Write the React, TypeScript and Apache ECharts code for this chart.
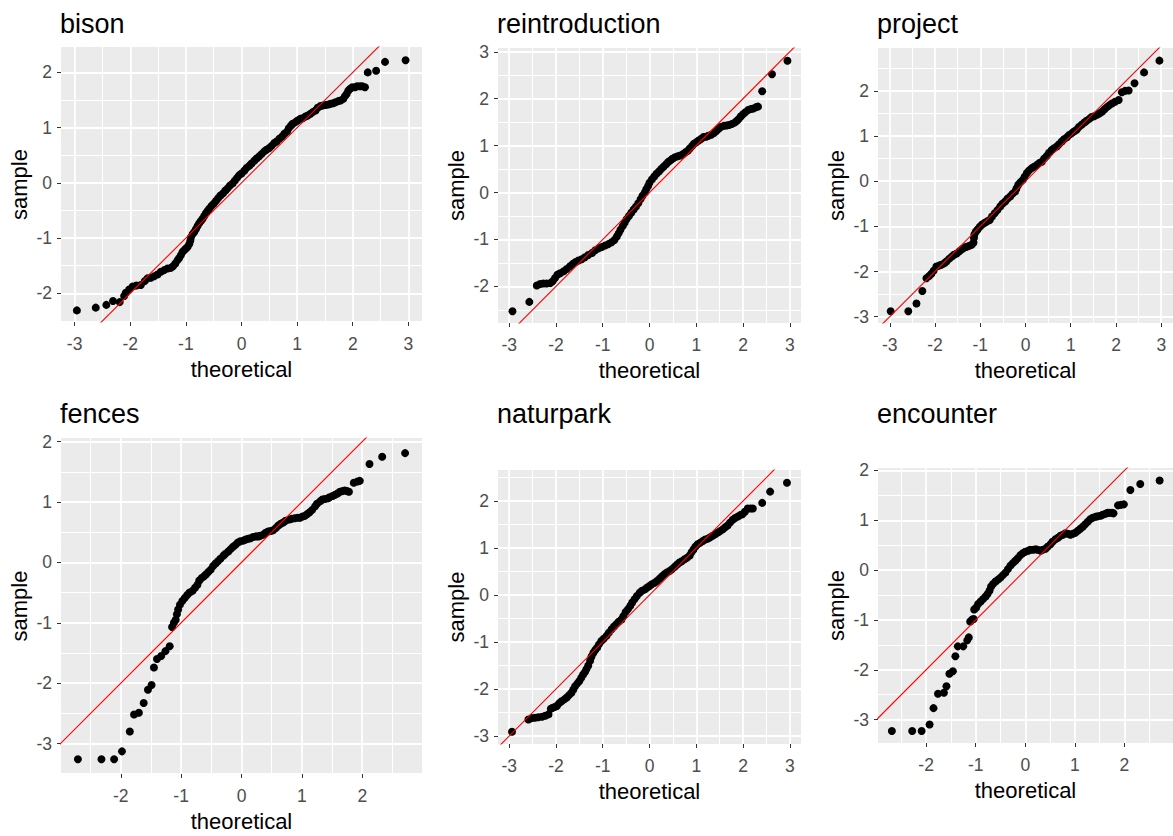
import React, { useEffect, useRef } from "react";
import * as echarts from "echarts";

// Normal Q-Q readings per item: [theoretical, sample]
const bisonQQ: [number, number][] = [
  [-2.96, -2.31], [-2.62, -2.26], [-2.43, -2.21], [-2.31, -2.14], [-2.19, -2.16],
  [-2.11, -2.05], [-2.08, -1.99], [-2.02, -1.93], [-1.96, -1.88], [-1.89, -1.86],
  [-1.81, -1.85], [-1.74, -1.78], [-1.69, -1.73], [-1.63, -1.72], [-1.57, -1.69],
  [-1.51, -1.66], [-1.45, -1.61], [-1.39, -1.58], [-1.33, -1.55], [-1.27, -1.54],
  [-1.23, -1.51], [-1.19, -1.46], [-1.15, -1.40], [-1.12, -1.36], [-1.09, -1.31],
  [-1.06, -1.25], [-1.03, -1.22], [-1.00, -1.19], [-0.97, -1.16], [-0.94, -1.11],
  [-0.92, -1.05], [-0.91, -0.99], [-0.88, -0.93], [-0.85, -0.89], [-0.82, -0.84],
  [-0.79, -0.78], [-0.76, -0.73], [-0.73, -0.69], [-0.70, -0.65], [-0.67, -0.60],
  [-0.64, -0.55], [-0.61, -0.51], [-0.58, -0.47], [-0.54, -0.42], [-0.50, -0.38],
  [-0.46, -0.33], [-0.42, -0.28], [-0.38, -0.23], [-0.33, -0.19], [-0.29, -0.14],
  [-0.25, -0.10], [-0.21, -0.05], [-0.16, -0.01], [-0.12, 0.04], [-0.08, 0.09],
  [-0.04, 0.14], [0.00, 0.17], [0.05, 0.22], [0.09, 0.27], [0.14, 0.31],
  [0.18, 0.35], [0.23, 0.40], [0.27, 0.44], [0.32, 0.48], [0.36, 0.52],
  [0.41, 0.57], [0.45, 0.60], [0.50, 0.63], [0.54, 0.67], [0.59, 0.72],
  [0.63, 0.75], [0.68, 0.80], [0.73, 0.84], [0.77, 0.89], [0.82, 0.93],
  [0.85, 0.99], [0.89, 1.04], [0.92, 1.07], [0.97, 1.10], [1.01, 1.13],
  [1.06, 1.16], [1.10, 1.17], [1.15, 1.20], [1.19, 1.22], [1.24, 1.25],
  [1.28, 1.28], [1.33, 1.31], [1.37, 1.36], [1.42, 1.39], [1.46, 1.40],
  [1.51, 1.41], [1.56, 1.42], [1.60, 1.43], [1.65, 1.44], [1.69, 1.46],
  [1.74, 1.48], [1.78, 1.49], [1.83, 1.52], [1.86, 1.57], [1.89, 1.61],
  [1.92, 1.67], [1.95, 1.70], [1.99, 1.73], [2.04, 1.73], [2.08, 1.75],
  [2.13, 1.75], [2.17, 1.75], [2.22, 1.73], [2.27, 2.00], [2.42, 2.03],
  [2.58, 2.19], [2.95, 2.22],
];

const reintroductionQQ: [number, number][] = [
  [-2.93, -2.53], [-2.57, -2.33], [-2.41, -1.98], [-2.34, -1.95], [-2.27, -1.94],
  [-2.20, -1.94], [-2.12, -1.93], [-2.07, -1.89], [-2.02, -1.82], [-1.97, -1.75],
  [-1.91, -1.72], [-1.84, -1.68], [-1.77, -1.63], [-1.70, -1.57], [-1.64, -1.52],
  [-1.58, -1.48], [-1.52, -1.45], [-1.45, -1.42], [-1.38, -1.38], [-1.31, -1.33],
  [-1.23, -1.29], [-1.16, -1.23], [-1.09, -1.19], [-1.02, -1.16], [-0.95, -1.13],
  [-0.88, -1.10], [-0.81, -1.06], [-0.75, -1.01], [-0.70, -0.94], [-0.66, -0.87],
  [-0.62, -0.79], [-0.57, -0.71], [-0.53, -0.64], [-0.49, -0.57], [-0.44, -0.50],
  [-0.39, -0.43], [-0.34, -0.36], [-0.29, -0.30], [-0.24, -0.23], [-0.19, -0.14],
  [-0.15, -0.07], [-0.10, 0.00], [-0.07, 0.07], [-0.03, 0.14], [0.00, 0.21],
  [0.05, 0.28], [0.10, 0.34], [0.15, 0.40], [0.20, 0.45], [0.25, 0.50],
  [0.30, 0.55], [0.35, 0.60], [0.40, 0.65], [0.44, 0.68], [0.49, 0.72],
  [0.54, 0.75], [0.60, 0.77], [0.66, 0.79], [0.72, 0.82], [0.77, 0.86],
  [0.82, 0.89], [0.86, 0.94], [0.91, 0.99], [0.95, 1.04], [1.00, 1.07],
  [1.05, 1.11], [1.10, 1.14], [1.15, 1.18], [1.21, 1.19], [1.26, 1.21],
  [1.32, 1.23], [1.38, 1.27], [1.43, 1.31], [1.48, 1.36], [1.53, 1.40],
  [1.59, 1.42], [1.65, 1.43], [1.70, 1.44], [1.76, 1.46], [1.82, 1.49],
  [1.87, 1.53], [1.91, 1.57], [1.95, 1.62], [2.00, 1.67], [2.05, 1.71],
  [2.11, 1.76], [2.17, 1.78], [2.22, 1.79], [2.28, 1.82], [2.32, 1.83],
  [2.41, 2.16], [2.62, 2.52], [2.95, 2.81],
];

const projectQQ: [number, number][] = [
  [-2.98, -2.88], [-2.59, -2.88], [-2.41, -2.71], [-2.28, -2.43], [-2.19, -2.15],
  [-2.13, -2.10], [-2.08, -2.05], [-2.03, -1.98], [-1.97, -1.89], [-1.91, -1.87],
  [-1.86, -1.85], [-1.80, -1.82], [-1.75, -1.78], [-1.69, -1.72], [-1.63, -1.67],
  [-1.58, -1.63], [-1.52, -1.60], [-1.46, -1.55], [-1.41, -1.51], [-1.35, -1.47],
  [-1.30, -1.45], [-1.24, -1.43], [-1.19, -1.41], [-1.15, -1.36], [-1.14, -1.26],
  [-1.13, -1.18], [-1.10, -1.12], [-1.06, -1.07], [-1.01, -1.01], [-0.96, -0.96],
  [-0.90, -0.92], [-0.85, -0.89], [-0.79, -0.86], [-0.74, -0.78], [-0.68, -0.71],
  [-0.62, -0.64], [-0.56, -0.56], [-0.51, -0.50], [-0.45, -0.45], [-0.40, -0.39],
  [-0.34, -0.34], [-0.29, -0.28], [-0.23, -0.23], [-0.20, -0.16], [-0.16, -0.08],
  [-0.11, -0.02], [-0.06, 0.03], [-0.02, 0.10], [0.03, 0.18], [0.08, 0.24],
  [0.14, 0.29], [0.19, 0.32], [0.25, 0.36], [0.30, 0.40], [0.36, 0.43],
  [0.41, 0.50], [0.47, 0.56], [0.52, 0.63], [0.58, 0.69], [0.63, 0.73],
  [0.69, 0.77], [0.74, 0.82], [0.80, 0.88], [0.85, 0.93], [0.91, 0.97],
  [0.96, 1.02], [1.02, 1.06], [1.07, 1.10], [1.13, 1.14], [1.18, 1.20],
  [1.24, 1.25], [1.30, 1.30], [1.35, 1.34], [1.41, 1.38], [1.46, 1.42],
  [1.52, 1.44], [1.58, 1.47], [1.63, 1.50], [1.69, 1.54], [1.74, 1.59],
  [1.80, 1.64], [1.85, 1.68], [1.91, 1.72], [1.98, 1.76], [2.06, 1.80],
  [2.13, 1.97], [2.20, 2.00], [2.28, 2.01], [2.41, 2.17], [2.62, 2.41],
  [2.96, 2.67],
];

const fencesQQ: [number, number][] = [
  [-2.71, -3.26], [-2.32, -3.26], [-2.11, -3.26], [-1.98, -3.13], [-1.85, -2.80],
  [-1.78, -2.52], [-1.70, -2.49], [-1.62, -2.33], [-1.55, -2.11], [-1.49, -2.03],
  [-1.45, -1.74], [-1.40, -1.60], [-1.33, -1.55], [-1.26, -1.47], [-1.19, -1.39],
  [-1.15, -1.07], [-1.12, -1.00], [-1.09, -0.95], [-1.07, -0.86], [-1.05, -0.78],
  [-1.02, -0.70], [-0.98, -0.64], [-0.94, -0.59], [-0.90, -0.54], [-0.86, -0.50],
  [-0.81, -0.47], [-0.77, -0.42], [-0.73, -0.37], [-0.70, -0.30], [-0.66, -0.26],
  [-0.62, -0.23], [-0.59, -0.20], [-0.55, -0.16], [-0.51, -0.12], [-0.47, -0.06],
  [-0.43, -0.02], [-0.39, 0.02], [-0.35, 0.06], [-0.30, 0.11], [-0.27, 0.14],
  [-0.22, 0.18], [-0.18, 0.22], [-0.14, 0.26], [-0.10, 0.29], [-0.06, 0.33],
  [-0.02, 0.35], [0.03, 0.36], [0.07, 0.38], [0.11, 0.39], [0.15, 0.40],
  [0.19, 0.42], [0.24, 0.43], [0.28, 0.43], [0.31, 0.44], [0.36, 0.46],
  [0.40, 0.49], [0.44, 0.51], [0.48, 0.52], [0.52, 0.53], [0.57, 0.57],
  [0.61, 0.61], [0.65, 0.64], [0.69, 0.66], [0.73, 0.69], [0.79, 0.71],
  [0.83, 0.72], [0.88, 0.73], [0.93, 0.74], [0.97, 0.74], [1.01, 0.76],
  [1.05, 0.77], [1.09, 0.80], [1.13, 0.83], [1.17, 0.87], [1.22, 0.93],
  [1.25, 0.97], [1.30, 1.01], [1.34, 1.04], [1.38, 1.05], [1.43, 1.06],
  [1.46, 1.08], [1.51, 1.10], [1.55, 1.12], [1.59, 1.14], [1.63, 1.17],
  [1.67, 1.18], [1.71, 1.19], [1.75, 1.18], [1.78, 1.17], [1.86, 1.32],
  [1.92, 1.34], [1.96, 1.35], [2.12, 1.63], [2.33, 1.75], [2.71, 1.81],
];

const naturparkQQ: [number, number][] = [
  [-2.94, -2.91], [-2.59, -2.65], [-2.52, -2.62], [-2.45, -2.61], [-2.38, -2.60],
  [-2.30, -2.59], [-2.23, -2.57], [-2.16, -2.54], [-2.11, -2.42], [-2.07, -2.40],
  [-2.02, -2.38], [-1.98, -2.36], [-1.93, -2.30], [-1.88, -2.26], [-1.82, -2.22],
  [-1.77, -2.18], [-1.72, -2.13], [-1.67, -2.08], [-1.63, -2.01], [-1.59, -1.94],
  [-1.54, -1.88], [-1.50, -1.83], [-1.46, -1.76], [-1.42, -1.69], [-1.38, -1.64],
  [-1.35, -1.58], [-1.31, -1.50], [-1.27, -1.40], [-1.24, -1.31], [-1.20, -1.23],
  [-1.16, -1.17], [-1.12, -1.12], [-1.08, -1.05], [-1.03, -0.98], [-0.98, -0.93],
  [-0.92, -0.87], [-0.87, -0.80], [-0.81, -0.73], [-0.76, -0.67], [-0.71, -0.62],
  [-0.66, -0.57], [-0.60, -0.52], [-0.56, -0.45], [-0.51, -0.36], [-0.46, -0.30],
  [-0.41, -0.23], [-0.37, -0.16], [-0.32, -0.09], [-0.27, -0.02], [-0.21, 0.05],
  [-0.16, 0.09], [-0.10, 0.12], [-0.05, 0.16], [0.00, 0.19], [0.05, 0.23],
  [0.11, 0.26], [0.16, 0.30], [0.22, 0.35], [0.27, 0.40], [0.32, 0.44],
  [0.37, 0.48], [0.43, 0.51], [0.48, 0.55], [0.54, 0.60], [0.59, 0.65],
  [0.64, 0.69], [0.69, 0.72], [0.75, 0.76], [0.80, 0.79], [0.86, 0.84],
  [0.90, 0.91], [0.94, 0.97], [0.98, 1.03], [1.03, 1.08], [1.08, 1.11],
  [1.14, 1.15], [1.19, 1.18], [1.25, 1.20], [1.30, 1.23], [1.35, 1.26],
  [1.40, 1.29], [1.46, 1.33], [1.51, 1.36], [1.57, 1.40], [1.62, 1.44],
  [1.67, 1.48], [1.72, 1.54], [1.78, 1.60], [1.83, 1.64], [1.89, 1.67],
  [1.94, 1.70], [1.99, 1.72], [2.04, 1.77], [2.10, 1.84], [2.16, 1.84],
  [2.21, 1.84], [2.41, 1.96], [2.58, 2.20], [2.94, 2.39],
];

const encounterQQ: [number, number][] = [
  [-2.69, -3.23], [-2.28, -3.23], [-2.09, -3.23], [-1.93, -3.10], [-1.85, -2.77],
  [-1.76, -2.48], [-1.64, -2.46], [-1.59, -2.33], [-1.53, -2.08], [-1.46, -2.03],
  [-1.41, -1.73], [-1.36, -1.53], [-1.25, -1.53], [-1.17, -1.41], [-1.14, -1.35],
  [-1.11, -1.03], [-1.07, -0.99], [-1.04, -0.98], [-1.03, -0.79], [-0.99, -0.75],
  [-0.95, -0.68], [-0.90, -0.63], [-0.85, -0.58], [-0.80, -0.53], [-0.76, -0.48],
  [-0.72, -0.41], [-0.69, -0.33], [-0.65, -0.28], [-0.60, -0.23], [-0.55, -0.19],
  [-0.50, -0.15], [-0.45, -0.10], [-0.40, -0.05], [-0.35, 0.02], [-0.30, 0.09],
  [-0.25, 0.14], [-0.20, 0.19], [-0.15, 0.24], [-0.10, 0.30], [-0.05, 0.34],
  [0.00, 0.37], [0.06, 0.39], [0.10, 0.41], [0.16, 0.41], [0.21, 0.42],
  [0.25, 0.41], [0.31, 0.39], [0.35, 0.41], [0.41, 0.43], [0.45, 0.47],
  [0.51, 0.52], [0.55, 0.57], [0.61, 0.62], [0.66, 0.65], [0.71, 0.69],
  [0.76, 0.71], [0.81, 0.74], [0.86, 0.73], [0.91, 0.71], [0.96, 0.73],
  [1.01, 0.75], [1.06, 0.79], [1.11, 0.83], [1.16, 0.87], [1.21, 0.92],
  [1.26, 0.97], [1.31, 1.02], [1.36, 1.05], [1.42, 1.07], [1.46, 1.08],
  [1.52, 1.09], [1.56, 1.11], [1.62, 1.13], [1.66, 1.15], [1.70, 1.15],
  [1.75, 1.15], [1.78, 1.14], [1.87, 1.30], [1.93, 1.31], [1.99, 1.32],
  [2.12, 1.61], [2.32, 1.73], [2.71, 1.80],
];

const panelTitles = ["bison", "reintroduction", "project", "fences", "naturpark", "encounter"];
const panelData = [bisonQQ, reintroductionQQ, projectQQ, fencesQQ, naturparkQQ, encounterQQ];

// tick labels
const ticksThree = [-3, -2, -1, 0, 1, 2, 3];
const ticksTwo = [-2, -1, 0, 1, 2];
const ticksUpTo2From2 = [-2, -1, 0, 1, 2];
const ticksUpTo3From2 = [-2, -1, 0, 1, 2, 3];
const ticksUpTo2From3 = [-3, -2, -1, 0, 1, 2];

const xTickSets = [ticksThree, ticksThree, ticksThree, ticksTwo, ticksThree, ticksTwo];
const yTickSets = [ticksUpTo2From2, ticksUpTo3From2, ticksUpTo2From3, ticksUpTo2From3, ticksUpTo2From3, ticksUpTo2From3];

// axis extents (data range plus padding)
const xExtents: [number, number][] = [
  [-3.245, 3.245], [-3.24, 3.24], [-3.26, 3.26], [-2.99, 2.99], [-3.24, 3.24], [-2.97, 2.98],
];
const yExtents: [number, number][] = [
  [-2.52, 2.46], [-2.78, 3.08], [-3.14, 2.95], [-3.505, 2.06], [-3.17, 2.66], [-3.47, 2.05],
];

// reference line y = intercept + slope * x
const refIntercept = 0;
const refSlope = 1;

// panel rectangles in px
const layout = [
  { left: 61, top: 47, width: 361, height: 275, titleLeft: 60, titleTop: 10 },
  { left: 498, top: 48, width: 303, height: 275, titleLeft: 497, titleTop: 10 },
  { left: 878, top: 48, width: 295, height: 275, titleLeft: 877, titleTop: 10 },
  { left: 61, top: 438, width: 361, height: 336, titleLeft: 60, titleTop: 400 },
  { left: 498, top: 470, width: 303, height: 274, titleLeft: 497, titleTop: 400 },
  { left: 878, top: 468, width: 295, height: 275, titleLeft: 877, titleTop: 400 },
];

const FONT = '"Liberation Sans", Arial, Helvetica, sans-serif';
const PANEL_BG = "#EBEBEB";
const TICK_TEXT = "#4D4D4D";
const TICK_LINE = "#333333";

function halfSteps(ticks: number[], lo: number, hi: number): number[] {
  const step = ticks[1] - ticks[0];
  const out: number[] = [];
  for (let i = -1; i < ticks.length; i++) {
    const base = i < 0 ? ticks[0] - step : ticks[i];
    const v = base + step / 2;
    if (v > lo && v < hi) out.push(v);
  }
  return out;
}

function buildOption() {
  const title = panelTitles.map((t, i) => ({
    text: t,
    left: layout[i].titleLeft,
    top: layout[i].titleTop,
    padding: 0,
    textStyle: { fontFamily: FONT, fontSize: 27, fontWeight: "normal", color: "#000000" },
  }));

  const grid = layout.map((g) => ({
    left: g.left,
    top: g.top,
    width: g.width,
    height: g.height,
    show: true,
    backgroundColor: PANEL_BG,
    borderWidth: 0,
    containLabel: false,
    outerBoundsMode: "none",
  }));

  const mainX = xTickSets.map((ticks, i) => ({
    type: "value",
    gridIndex: i,
    min: xExtents[i][0],
    max: xExtents[i][1],
    position: "bottom",
    name: "theoretical",
    nameLocation: "middle",
    nameGap: 36,
    nameTextStyle: { fontFamily: FONT, fontSize: 22, color: "#000000" },
    axisLine: { show: false, onZero: false },
    axisTick: { show: true, length: 4, customValues: ticks, lineStyle: { color: TICK_LINE, width: 1 } },
    axisLabel: { customValues: ticks, color: TICK_TEXT, fontFamily: FONT, fontSize: 17.5, margin: 13 },
    splitLine: { show: true, lineStyle: { color: "#FFFFFF", width: 1.8 } },
  }));

  const mainY = yTickSets.map((ticks, i) => ({
    type: "value",
    gridIndex: i,
    min: yExtents[i][0],
    max: yExtents[i][1],
    position: "left",
    name: "sample",
    nameLocation: "middle",
    nameGap: 31,
    nameTextStyle: { fontFamily: FONT, fontSize: 22, color: "#000000" },
    axisLine: { show: false, onZero: false },
    axisTick: { show: true, length: 4, customValues: ticks, lineStyle: { color: TICK_LINE, width: 1 } },
    axisLabel: { customValues: ticks, color: TICK_TEXT, fontFamily: FONT, fontSize: 17.5, margin: 9 },
    splitLine: { show: true, lineStyle: { color: "#FFFFFF", width: 1.8 } },
  }));

  // secondary axes carrying the minor grid lines
  const minorX = xTickSets.map((ticks, i) => {
    const minors = halfSteps(ticks, xExtents[i][0], xExtents[i][1]);
    return {
      type: "value",
      gridIndex: i,
      min: xExtents[i][0],
      max: xExtents[i][1],
      position: "top",
      axisLine: { show: false, onZero: false },
      axisTick: { show: false, customValues: minors },
      axisLabel: { show: false, customValues: minors },
      splitLine: { show: true, lineStyle: { color: "#FFFFFF", width: 1 } },
    };
  });
  const minorY = yTickSets.map((ticks, i) => {
    const minors = halfSteps(ticks, yExtents[i][0], yExtents[i][1]);
    return {
      type: "value",
      gridIndex: i,
      min: yExtents[i][0],
      max: yExtents[i][1],
      position: "right",
      axisLine: { show: false, onZero: false },
      axisTick: { show: false, customValues: minors },
      axisLabel: { show: false, customValues: minors },
      splitLine: { show: true, lineStyle: { color: "#FFFFFF", width: 1 } },
    };
  });

  const scatter = panelData.map((pts, i) => ({
    type: "scatter",
    xAxisIndex: i,
    yAxisIndex: i,
    data: pts,
    symbol: "circle",
    symbolSize: 8,
    itemStyle: { color: "#000000", opacity: 1 },
    silent: true,
    z: 2,
  }));

  const refLines = panelData.map((_, i) => {
    const lo = Math.min(xExtents[i][0], yExtents[i][0]) - 1;
    const hi = Math.max(xExtents[i][1], yExtents[i][1]) + 1;
    return {
      type: "line",
      xAxisIndex: i,
      yAxisIndex: i,
      data: [
        [lo, refIntercept + refSlope * lo],
        [hi, refIntercept + refSlope * hi],
      ],
      symbol: "none",
      clip: true,
      lineStyle: { color: "#FF0000", width: 1.1 },
      silent: true,
      z: 3,
    };
  });

  return {
    animation: false,
    backgroundColor: "#FFFFFF",
    title,
    grid,
    xAxis: [...mainX, ...minorX],
    yAxis: [...mainY, ...minorY],
    series: [...scatter, ...refLines],
  };
}

export default function App() {
  const ref = useRef<HTMLDivElement>(null);
  useEffect(() => {
    if (!ref.current) return;
    const chart = echarts.init(ref.current, undefined, { renderer: "svg" });
    chart.setOption(buildOption() as any);
    return () => chart.dispose();
  }, []);
  return (
    <div
      ref={ref}
      style={{ position: "absolute", left: 0, top: 0, width: 1173, height: 836 }}
    />
  );
}
